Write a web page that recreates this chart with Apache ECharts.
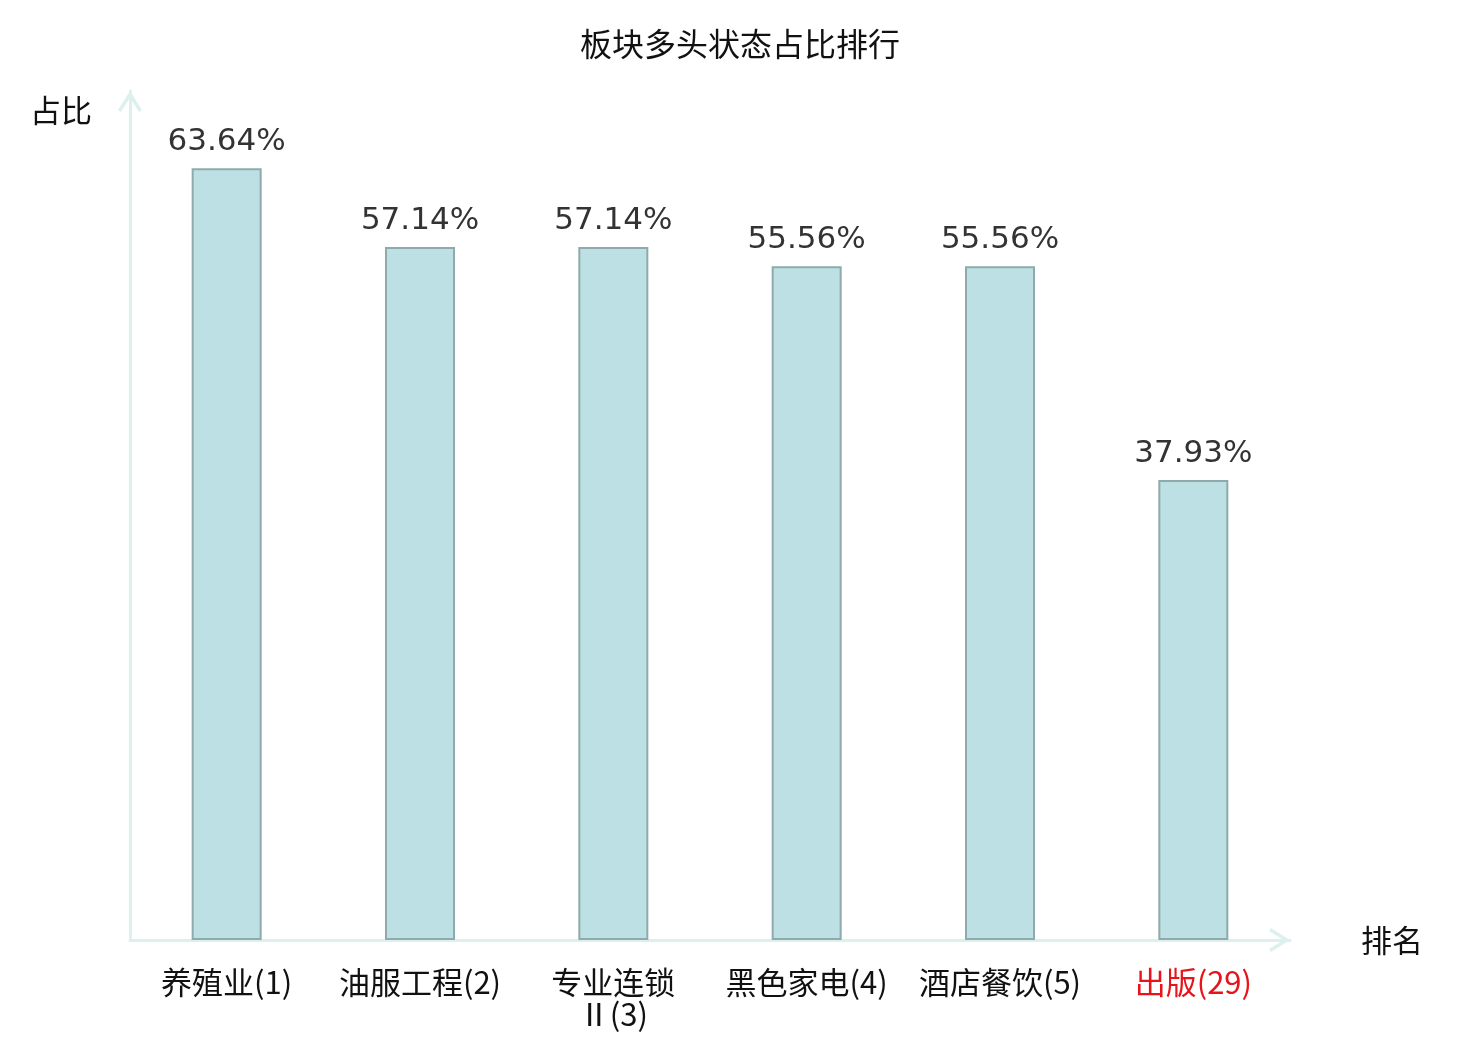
<!DOCTYPE html>
<html>
<head>
<meta charset="utf-8">
<title>板块多头状态占比排行</title>
<script src="https://cdn.jsdelivr.net/npm/echarts@6/dist/echarts.min.js"></script>
<style>
  html, body { margin: 0; padding: 0; background: #fff; }
  #chart { width: 1480px; height: 1040px; }
</style>
</head>
<body>
<div id="chart"></div>
<script>
'use strict';

/* ── Data ── */
const sectors = ['养殖业', '油服工程', '专业连锁\nⅡ', '黑色家电', '酒店餐饮', '出版'];
const ranks   = [1, 2, 3, 4, 5, 29];
const ratios  = [63.64, 57.14, 57.14, 55.56, 55.56, 37.93];
const focusSector = '出版';

/* ── Styles ── */
const AXIS_COLOR = '#dcf1ee';
const CJK_FONT = "'Noto Sans CJK SC', sans-serif";
// open chevron, pointing up (same orientation as the built-in 'arrow')
const CHEVRON = 'path://M12,0 L24,19 L21,20.9 L12,6.5 L3,20.9 L0,19 Z';

const axisLineStyle = {
  show: true,
  symbol: ['none', CHEVRON],
  symbolSize: [24, 21],
  symbolOffset: [0, -10.5],
  lineStyle: { color: AXIS_COLOR, width: 3 }
};

const categories = sectors.map((s, i) => ({
  value: s + '(' + ranks[i] + ')',
  textStyle: s === focusSector ? { color: '#e8141b' } : {}
}));

const chart = echarts.init(document.getElementById('chart'), null, { renderer: 'canvas' });

chart.setOption({
  backgroundColor: '#fff',
  animation: false,
  title: {
    text: '板块多头状态占比排行',
    left: 'center',
    top: 23,
    textStyle: { fontFamily: CJK_FONT, fontSize: 32, fontWeight: 'normal', color: '#111' }
  },
  grid: { left: 130, right: 190, top: 91, bottom: 100, containLabel: false, outerBoundsMode: 'none' },
  xAxis: {
    type: 'category',
    data: categories,
    name: '排名',
    nameLocation: 'end',
    nameGap: 71,
    nameTextStyle: { fontFamily: CJK_FONT, fontSize: 31, color: '#111', padding: [4, 0, 0, 0] },
    axisLine: axisLineStyle,
    axisTick: { show: false },
    axisLabel: {
      interval: 0,
      margin: 26,
      fontFamily: CJK_FONT,
      fontSize: 31,
      lineHeight: 32,
      color: '#111'
    },
    splitLine: { show: false }
  },
  yAxis: {
    type: 'value',
    min: 0,
    max: 70,
    name: '占比',
    nameLocation: 'end',
    nameGap: -19,
    nameTextStyle: {
      fontFamily: CJK_FONT, fontSize: 31, color: '#111',
      align: 'right', verticalAlign: 'middle', padding: [0, 38, 0, 0]
    },
    axisLine: axisLineStyle,
    axisTick: { show: false },
    axisLabel: { show: false },
    splitLine: { show: false }
  },
  series: [{
    type: 'bar',
    data: ratios,
    barWidth: 70,
    itemStyle: { color: '#bce0e3', borderColor: '#8eaaab', borderWidth: 2 },
    label: {
      show: true,
      position: 'top',
      distance: 11,
      formatter: p => p.value.toFixed(2) + '%',
      fontFamily: "'DejaVu Sans', sans-serif",
      fontSize: 31,
      color: '#333'
    }
  }]
});

window.addEventListener('resize', () => chart.resize());
</script>
</body>
</html>
